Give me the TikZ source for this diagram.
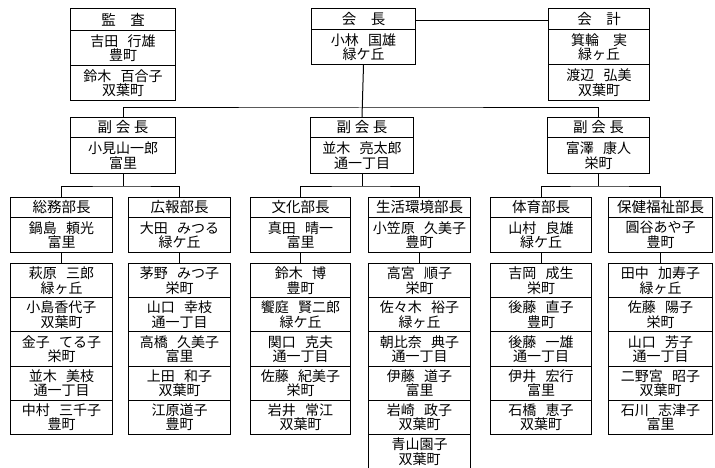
\documentclass[tikz,border=0pt]{standalone}
\usepackage{fontspec}
\newfontfamily\cjk[WordSpace=3]{Noto Sans CJK JP}
\newcommand\fkc{副\hspace{0.25em}会\hspace{0.25em}長}
\begin{document}
\begin{tikzpicture}[x=1pt,y=-1pt,
  box/.style={draw, line width=1pt, anchor=north west, inner sep=0pt, align=center,
    font=\cjk\fontsize{14}{14.5}\selectfont},
  hdr/.style={box, font=\cjk\fontsize{14.5}{15}\selectfont},
  con/.style={line width=1pt}]
\useasboundingbox (0,0) rectangle (715,468);
\newcommand\memcol[4]{%
  \foreach \mytext [count=\i] in {#4} {
    \node[box, minimum width=#3pt, minimum height=34.2pt] (#1\i) at (#2,{263+(\i-1)*34.2}) {\mytext};
  }%
}
% ---- top row
\node[hdr, minimum width=105pt, minimum height=22pt] (kansaH) at (70,8) {監　査};
\node[box, minimum width=105pt, minimum height=35pt] (kansaB1) at (70,30) {吉田 行雄\\豊町};
\node[box, minimum width=105pt, minimum height=35pt] (kansaB2) at (70,65) {鈴木 百合子\\双葉町};

\node[hdr, minimum width=104pt, minimum height=21pt] (kaichoH) at (311,8) {会　長};
\node[box, minimum width=104pt, minimum height=35pt] (kaichoB) at (311,29) {小林 国雄\\緑ケ丘};

\node[hdr, minimum width=101pt, minimum height=21pt] (kaikeiH) at (548,8) {会　計};
\node[box, minimum width=101pt, minimum height=35pt] (kaikeiB1) at (548,29) {箕輪　実\\緑ヶ丘};
\node[box, minimum width=101pt, minimum height=36pt] (kaikeiB2) at (548,64) {渡辺 弘美\\双葉町};

% ---- vice presidents
\node[hdr, minimum width=105pt, minimum height=20pt] (f1H) at (70,117) {\fkc};
\node[box, minimum width=105pt, minimum height=36pt] (f1B) at (70,137) {小見山一郎\\富里};
\node[hdr, minimum width=103pt, minimum height=20pt] (f2H) at (310,117) {\fkc};
\node[box, minimum width=103pt, minimum height=36pt] (f2B) at (310,137) {並木 亮太郎\\通一丁目};
\node[hdr, minimum width=102pt, minimum height=20pt] (f3H) at (547,117) {\fkc};
\node[box, minimum width=102pt, minimum height=36pt] (f3B) at (547,137) {富澤 康人\\栄町};

% ---- departments
\node[hdr, minimum width=102pt, minimum height=20pt] (d1H) at (10,197) {総務部長};
\node[box, minimum width=102pt, minimum height=35pt] (d1B) at (10,217) {鍋島 頼光\\富里};
\node[hdr, minimum width=102pt, minimum height=20pt] (d2H) at (128,197) {広報部長};
\node[box, minimum width=102pt, minimum height=35pt] (d2B) at (128,217) {大田 みつる\\緑ケ丘};
\node[hdr, minimum width=100pt, minimum height=20pt] (d3H) at (250,197) {文化部長};
\node[box, minimum width=100pt, minimum height=35pt] (d3B) at (250,217) {真田 晴一\\富里};
\node[hdr, minimum width=102pt, minimum height=20pt] (d4H) at (368,197) {生活環境部長};
\node[box, minimum width=102pt, minimum height=35pt] (d4B) at (368,217) {小笠原 久美子\\豊町};
\node[hdr, minimum width=101pt, minimum height=20pt] (d5H) at (490,197) {体育部長};
\node[box, minimum width=101pt, minimum height=35pt] (d5B) at (490,217) {山村 良雄\\緑ケ丘};
\node[hdr, minimum width=104pt, minimum height=20pt] (d6H) at (608,197) {保健福祉部長};
\node[box, minimum width=104pt, minimum height=35pt] (d6B) at (608,217) {圓谷あや子\\豊町};

% ---- members
\memcol{a}{10}{102}{{萩原 三郎\\緑ヶ丘},{小島香代子\\双葉町},{金子 てる子\\栄町},{並木 美枝\\通一丁目},{中村 三千子\\豊町}}
\memcol{b}{128}{102}{{茅野 みつ子\\栄町},{山口 幸枝\\通一丁目},{高橋 久美子\\富里},{上田 和子\\双葉町},{江原道子\\豊町}}
\memcol{c}{250}{100}{{鈴木 博\\豊町},{饗庭 賢二郎\\緑ケ丘},{関口 克夫\\通一丁目},{佐藤 紀美子\\栄町},{岩井 常江\\双葉町}}
\memcol{d}{368}{102}{{高宮 順子\\栄町},{佐々木 裕子\\緑ヶ丘},{朝比奈 典子\\通一丁目},{伊藤 道子\\富里},{岩崎 政子\\双葉町},{青山園子\\双葉町}}
\memcol{e}{490}{101}{{吉岡 成生\\栄町},{後藤 直子\\豊町},{後藤 一雄\\通一丁目},{伊井 宏行\\富里},{石橋 恵子\\双葉町}}
\memcol{g}{608}{104}{{田中 加寿子\\緑ヶ丘},{佐藤 陽子\\栄町},{山口 芳子\\通一丁目},{二野宮 昭子\\双葉町},{石川 志津子\\富里}}

% ---- connectors
\draw[con] ([yshift=8pt]kaichoB.north east) -- ([yshift=8pt]kaikeiB1.north west);
\coordinate (bar) at (361,108);
\draw[con] (kaichoB.south) -- (f2H.north);
\draw[con] (f1H.north) |- (bar) -| (f3H.north);
\coordinate (k1) at (f1B.south |- 0,186);
\coordinate (k2) at (f2B.south |- 0,186);
\coordinate (k3) at (f3B.south |- 0,186);
\draw[con] (f1B.south) -- (k1);
\draw[con] (f2B.south) -- (k2);
\draw[con] (f3B.south) -- (k3);
\draw[con] (d1H.north) |- (k1) -| (d2H.north);
\draw[con] (d3H.north) |- (k2) -| (d4H.north);
\draw[con] (d5H.north) |- (k3) -| (d6H.north);
\draw[con] (d1B.south) -- (a1.north);
\draw[con] (d2B.south) -- (b1.north);
\draw[con] (d3B.south) -- (c1.north);
\draw[con] (d4B.south) -- (d1.north);
\draw[con] (d5B.south) -- (e1.north);
\draw[con] (d6B.south) -- (g1.north);
\end{tikzpicture}
\end{document}
